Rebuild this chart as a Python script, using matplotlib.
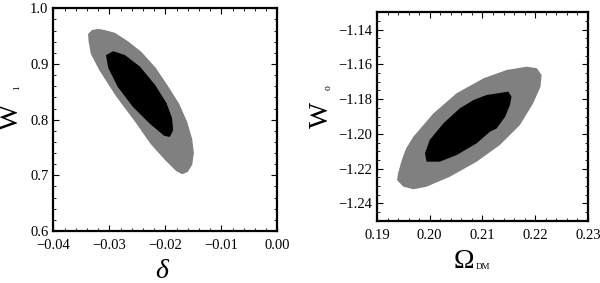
import matplotlib
matplotlib.use("Agg")
import matplotlib.pyplot as plt
from matplotlib.patches import Polygon
from matplotlib.ticker import AutoMinorLocator, MultipleLocator

plt.rcParams['font.family'] = ['Liberation Serif', 'DejaVu Serif']
plt.rcParams['mathtext.fontset'] = 'custom'
plt.rcParams['mathtext.rm'] = 'Liberation Serif'
plt.rcParams['mathtext.it'] = 'Liberation Serif:italic'

# left panel: delta vs w1 (contour outlines)
delta_outer = [-0.0338, -0.0331, -0.0320, -0.0308, -0.0290, -0.0267, -0.0243, -0.0217,
               -0.0195, -0.0175, -0.0161, -0.0152, -0.0149, -0.0152, -0.0160, -0.0170,
               -0.0181, -0.0201, -0.0226, -0.0256, -0.0288, -0.0318, -0.0333, -0.0337]
w1_outer = [0.954, 0.961, 0.963, 0.961, 0.956, 0.941, 0.922, 0.893,
            0.860, 0.828, 0.796, 0.765, 0.740, 0.719, 0.706, 0.702,
            0.708, 0.728, 0.756, 0.799, 0.842, 0.889, 0.918, 0.940]
delta_inner = [-0.0306, -0.0293, -0.0272, -0.0245, -0.0218, -0.0198, -0.0188,
               -0.0186, -0.0192, -0.0202, -0.0227, -0.0258, -0.0285, -0.0302]
w1_inner = [0.916, 0.923, 0.916, 0.895, 0.862, 0.830, 0.803,
            0.781, 0.769, 0.771, 0.792, 0.823, 0.859, 0.893]

# right panel: Omega_DM vs w0
om_outer = [0.1938, 0.1940, 0.1947, 0.1955, 0.1969, 0.2007, 0.2051, 0.2102, 0.2146, 0.2184,
            0.2203, 0.2212, 0.2210, 0.2196, 0.2171, 0.2133, 0.2089, 0.2038, 0.1994,
            0.1969, 0.1950]
w0_outer = [-1.2266, -1.2227, -1.2151, -1.2085, -1.2016, -1.1882, -1.1766, -1.1680, -1.1632, -1.1613,
            -1.1622, -1.1661, -1.1728, -1.1824, -1.1949, -1.2064, -1.2160, -1.2247, -1.2304,
            -1.2319, -1.2304]
om_inner = [0.2083, 0.2108, 0.2149, 0.2155, 0.2152, 0.2143, 0.2127, 0.2114, 0.2089,
            0.2051, 0.2019, 0.1994, 0.1991, 0.2000, 0.2026, 0.2057]
w0_inner = [-1.1805, -1.1776, -1.1757, -1.1786, -1.1834, -1.1901, -1.1968, -1.1988, -1.2054,
            -1.2122, -1.2160, -1.2160, -1.2112, -1.2035, -1.1939, -1.1853]


def style_axes(ax, xmaj, xmin_div, ymaj, ymin_div):
    ax.xaxis.set_major_locator(MultipleLocator(xmaj))
    ax.yaxis.set_major_locator(MultipleLocator(ymaj))
    ax.xaxis.set_minor_locator(AutoMinorLocator(xmin_div))
    ax.yaxis.set_minor_locator(AutoMinorLocator(ymin_div))
    ax.tick_params(which='both', direction='in', top=True, right=True, labelsize=10.5)
    ax.tick_params(which='major', length=4, width=0.8)
    ax.tick_params(which='minor', length=2, width=0.6)
    ax.tick_params(axis='x', pad=6)
    for s in ax.spines.values():
        s.set_linewidth(1.6)


fig = plt.figure(figsize=(6, 2.83), dpi=100)

ax1 = fig.add_axes([0.0889, 0.1837, 0.3733, 0.7869])
ax1.add_patch(Polygon(list(zip(delta_outer, w1_outer)), closed=True, fc='#808080', ec='none'))
ax1.add_patch(Polygon(list(zip(delta_inner, w1_inner)), closed=True, fc='black', ec='none'))
ax1.set_xlim(-0.04, 0.0)
ax1.set_ylim(0.6, 1.0)
style_axes(ax1, 0.01, 5, 0.1, 5)
ax1.xaxis.set_major_formatter(plt.FuncFormatter(lambda v, p: f"{v:.2f}".replace('-', '\u2212')))
ax1.yaxis.set_major_formatter(plt.FuncFormatter(lambda v, p: f"{v:.1f}"))
# axis labels: big W with a tiny subscript, as in the original
ax1.text(-0.189, 0.512, 'W', transform=ax1.transAxes, rotation=90,
         fontsize=20, ha='center', va='center')
ax1.text(-0.163, 0.645, '1', transform=ax1.transAxes, rotation=90,
         fontsize=6.5, ha='center', va='center')
ax1.text(0.49, -0.18, r'$\delta$', transform=ax1.transAxes,
         fontsize=20, ha='center', va='center')

ax2 = fig.add_axes([0.6283, 0.2201, 0.3517, 0.7364])
ax2.add_patch(Polygon(list(zip(om_outer, w0_outer)), closed=True, fc='#808080', ec='none'))
ax2.add_patch(Polygon(list(zip(om_inner, w0_inner)), closed=True, fc='black', ec='none'))
ax2.set_xlim(0.19, 0.23)
ax2.set_ylim(-1.25, -1.13)
style_axes(ax2, 0.01, 5, 0.02, 4)
ax2.xaxis.set_major_formatter(plt.FuncFormatter(lambda v, p: f"{v:.2f}"))
ax2.yaxis.set_major_formatter(plt.FuncFormatter(lambda v, p: f"{v:.2f}".replace('-', '\u2212')))
ax2.text(-0.261, 0.507, 'W', transform=ax2.transAxes, rotation=90,
         fontsize=20, ha='center', va='center')
ax2.text(-0.232, 0.640, 'o', transform=ax2.transAxes, rotation=90,
         fontsize=7, ha='center', va='center')
ax2.text(0.412, -0.198, '\u03a9', transform=ax2.transAxes,
         fontsize=20, ha='center', va='center')
ax2.text(0.500, -0.222, 'DM', transform=ax2.transAxes,
         fontsize=6.5, ha='center', va='center')

fig.savefig('out.png', dpi=100)
